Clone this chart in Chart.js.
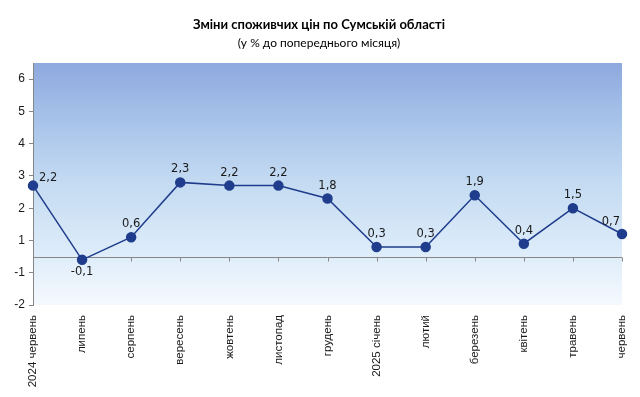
<!DOCTYPE html>
<html>
<head>
<meta charset="utf-8">
<script src="https://cdn.jsdelivr.net/npm/chart.js@4"></script>
<style>
  html, body { margin: 0; padding: 0; background: #fff; }
  #wrap { width: 640px; height: 397px; position: relative; }
</style>
</head>
<body>
<div id="wrap"><canvas id="cpi"></canvas></div>
<script>
// місяці та зміни цін, % до попереднього місяця
const months = ['2024 червень', 'липень', 'серпень', 'вересень', 'жовтень', 'листопад',
  'грудень', '2025 січень', 'лютий', 'березень', 'квітень', 'травень', 'червень'];
const priceChange = [2.2, -0.1, 0.6, 2.3, 2.2, 2.2, 1.8, 0.3, 0.3, 1.9, 0.4, 1.5, 0.7];
const yTicks = [-1.5, -0.5, 0.5, 1.5, 2.5, 3.5, 4.5, 5.5];

const titleText = 'Зміни споживчих цін по Сумській області';
const subtitleText = '(у % до попереднього місяця)';

const lineColor = '#1f3d8c';
const axisGray = '#868686';

// заголовок, фон з градієнтом, нульова лінія та підписи значень
const decor = {
  id: 'decor',
  beforeDraw(chart) {
    const { ctx, chartArea: a } = chart;
    ctx.save();
    const g = ctx.createLinearGradient(0, a.top, 0, a.bottom);
    g.addColorStop(0, '#8da9de');
    g.addColorStop(0.25, '#a9c4ea');
    g.addColorStop(0.5, '#c4dbf2');
    g.addColorStop(0.8, '#dfedfa');
    g.addColorStop(1, '#f5f9fe');
    ctx.fillStyle = g;
    ctx.fillRect(a.left, a.top, a.right - a.left, a.bottom - a.top);

    ctx.fillStyle = '#000';
    ctx.textAlign = 'center';
    ctx.textBaseline = 'middle';
    ctx.font = 'bold 13px Lato, "Open Sans", sans-serif';
    ctx.fillText(titleText, 319, 25);
    ctx.font = '12px Lato, "Open Sans", sans-serif';
    ctx.fillText(subtitleText, 319, 43);
    ctx.restore();
  },
  beforeDatasetsDraw(chart) {
    const { ctx, chartArea: a, scales } = chart;
    const y0 = Math.round(scales.y.getPixelForValue(0)) + 0.5;
    ctx.save();
    ctx.strokeStyle = axisGray;
    ctx.lineWidth = 1;
    ctx.beginPath();
    ctx.moveTo(a.left, y0);
    ctx.lineTo(a.right, y0);
    months.forEach((m, i) => {
      if (i === 0) return;
      const x = Math.round(scales.x.getPixelForValue(i)) + 0.5;
      ctx.moveTo(x, y0);
      ctx.lineTo(x, y0 + 4);
    });
    ctx.stroke();
    ctx.restore();
  },
  afterDatasetsDraw(chart) {
    const { ctx } = chart;
    const pts = chart.getDatasetMeta(0).data;
    ctx.save();
    ctx.fillStyle = '#1a1a1a';
    ctx.font = '11.5px "DejaVu Sans", Verdana, sans-serif';
    ctx.textBaseline = 'middle';
    pts.forEach((p, i) => {
      const v = priceChange[i];
      const txt = v.toFixed(1).replace('.', ',');
      let x = p.x, y = p.y - 13;
      ctx.textAlign = 'center';
      if (v < 0) y = p.y + 12;
      if (i === 0) { ctx.textAlign = 'left'; x = p.x + 6; y = p.y - 8; }
      if (i === pts.length - 1) { ctx.textAlign = 'right'; x = p.x - 2; y = p.y - 12; }
      ctx.fillText(txt, x, y);
    });
    ctx.restore();
  }
};

new Chart(document.getElementById('cpi'), {
  type: 'line',
  data: {
    labels: months,
    datasets: [{
      data: priceChange,
      borderColor: lineColor,
      backgroundColor: lineColor,
      borderWidth: 1.5,
      pointRadius: 4.5,
      pointHoverRadius: 4.5,
      tension: 0
    }]
  },
  options: {
    responsive: true,
    maintainAspectRatio: false,
    animation: false,
    layout: { padding: { top: 63, right: 18, left: 0, bottom: 0 } },
    plugins: { legend: { display: false }, tooltip: { enabled: false } },
    scales: {
      x: {
        offset: false,
        grid: { display: false },
        border: { display: false },
        ticks: {
          minRotation: 90,
          maxRotation: 90,
          autoSkip: false,
          padding: 2,
          color: '#1a1a1a',
          font: { family: '"Liberation Sans", Arial, sans-serif', size: 11.5 }
        },
        afterFit(s) { s.height = 92; }
      },
      y: {
        min: -1.5,
        max: 6,
        afterBuildTicks(s) { s.ticks = yTicks.map(v => ({ value: v })); },
        grid: { drawOnChartArea: false, drawTicks: true, tickLength: 4, color: axisGray },
        border: { display: true, color: axisGray, width: 1 },
        ticks: {
          padding: 4,
          color: '#1a1a1a',
          font: { family: '"Liberation Sans", Arial, sans-serif', size: 12 },
          callback(v) { return String(Math.sign(v) * Math.round(Math.abs(v))); }
        },
        afterFit(s) { s.width = 33; }
      }
    }
  },
  plugins: [decor]
});
</script>
</body>
</html>
